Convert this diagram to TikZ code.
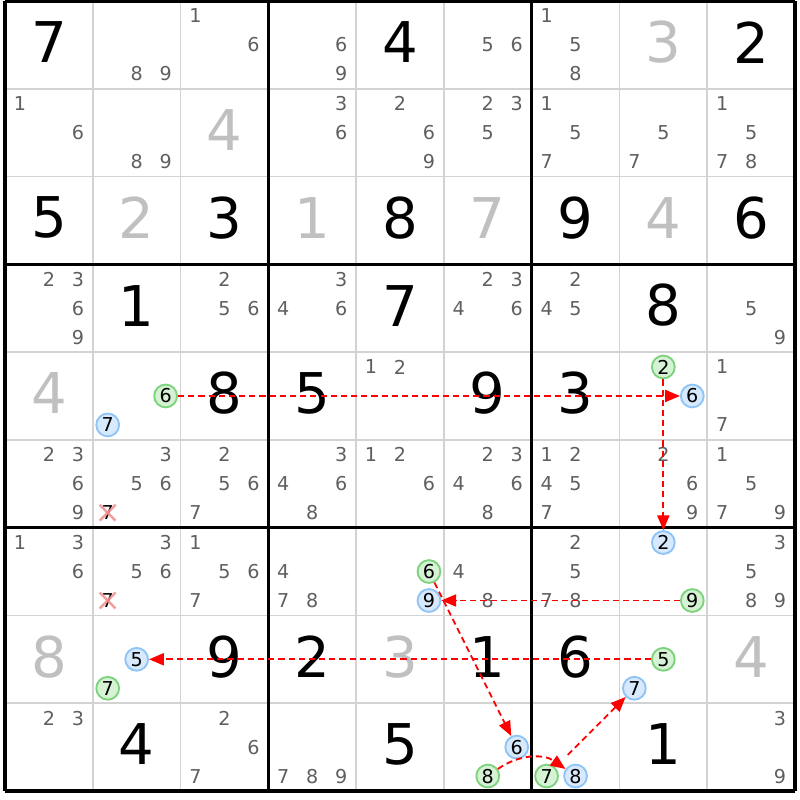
\documentclass[tikz,border=0pt]{standalone}
\usepackage{fontspec}
\setmainfont{DejaVu Sans}
\usepackage{xcolor}
\usetikzlibrary{arrows.meta}
\definecolor{candgray}{HTML}{5F5F5F}
\definecolor{solvedgray}{HTML}{C0C0C0}
\definecolor{gridgray}{HTML}{D3D3D3}
\definecolor{ongreen}{HTML}{7DD37D}
\definecolor{onfill}{HTML}{D5F2D5}
\definecolor{offblue}{HTML}{8EC4F6}
\definecolor{offfill}{HTML}{D7E9FC}
\definecolor{crossred}{HTML}{F28C8C}
\tikzset{%
	given digit/.style={
		font=\fontsize{18.2}{20}\selectfont,
		text=black,
		inner sep=0pt
	},
	solved digit/.style={
		given digit,
		text=solvedgray
	},
	every cand/.style={
		circle,
		inner sep=0pt,
		minimum size=0.26cm,
		font=\fontsize{6.2}{7}\selectfont,
		text=candgray
	},
	cand plain/.style={},
	cand on/.style={draw=ongreen, fill=onfill, line width=0.6pt, text=black},
	cand off/.style={draw=offblue, fill=offfill, line width=0.6pt, text=black},
	cand crossed/.style={text=black},
	cell line/.style={gridgray, line width=0.5pt},
	box line/.style={black, line width=1.1pt},
	cross mark/.style={crossred, line width=0.8pt, opacity=0.85},
	chain link/.style={
		red,
		line width=0.6pt,
		dash pattern=on 2pt off 1.3pt,
		-{Triangle[length=4.8pt, width=3.9pt]}
	},
}

\begin{document}
\begin{tikzpicture}[x=1cm, y=1cm]

			\useasboundingbox (-0.057,0.011) rectangle (9.057,-9.103);
			\fill[white] (-0.057,0.011) rectangle (9.057,-9.103);

			\foreach \i in {1,2,4,5,7,8} {
			\draw [cell line] (\i,0) -- (\i,-9);
			\draw [cell line] (0,-\i) -- (9,-\i);
			}
			\foreach \i in {0,3,6,9} {
			\draw [box line] (\i,0) -- (\i,-9);
			\draw [box line] (0,-\i) -- (9,-\i);
			}

			% given and solved digits
			\foreach \r/\c/\v in {1/1/7,1/5/4,1/9/2,3/1/5,3/3/3,3/5/8,3/7/9,3/9/6,4/2/1,4/5/7,4/8/8,
				5/3/8,5/4/5,5/6/9,5/7/3,8/3/9,8/4/2,8/6/1,8/7/6,9/2/4,9/5/5,9/8/1}
			\node [given digit] (cell-\r-\c) at (\c-0.5,-\r+0.53) {\v};

			\foreach \r/\c/\v in {1/8/3,2/3/4,3/2/2,3/4/1,3/6/7,3/8/4,5/1/4,8/1/8,8/5/3,8/9/4}
			\node [solved digit] (cell-\r-\c) at (\c-0.5,-\r+0.53) {\v};

			% candidates
			\foreach \r/\c/\ds in {1/2/{8,9},1/3/{1,6},1/4/{6,9},1/6/{5,6},1/7/{1,5,8},
				2/1/{1,6},2/2/{8,9},2/4/{3,6},2/5/{2,6,9},2/6/{2,3,5},2/7/{1,5,7},2/8/{5,7},2/9/{1,5,7,8},
				4/1/{2,3,6,9},4/3/{2,5,6},4/4/{3,4,6},4/6/{2,3,4,6},4/7/{2,4,5},4/9/{5,9},
				5/5/{1,2},5/9/{1,7},
				6/1/{2,3,6,9},6/2/{3,5,6},6/3/{2,5,6,7},6/4/{3,4,6,8},6/5/{1,2,6},6/6/{2,3,4,6,8},
				6/7/{1,2,4,5,7},6/8/{2,6,9},6/9/{1,5,7,9},
				7/1/{1,3,6},7/2/{3,5,6},7/3/{1,5,6,7},7/4/{4,7,8},7/6/{4,8},7/7/{2,5,7,8},7/9/{3,5,8,9},
				9/1/{2,3},9/3/{2,6,7},9/4/{7,8,9},9/9/{3,9}}
			\foreach \d in \ds
			\node [every cand, cand plain] (cand-\r-\c-\d)
				at ({\c-0.83+0.33*mod(\d-1,3)},{-\r+0.83-0.33*int((\d-1)/3)}) {\d};

			\foreach \r/\c/\d/\s in {5/2/6/on,5/2/7/off,5/8/2/on,5/8/6/off,7/5/6/on,7/5/9/off,
				7/8/2/off,7/8/9/on,8/2/5/off,8/2/7/on,8/8/5/on,8/8/7/off,9/6/6/off,9/6/8/on,
				9/7/7/on,9/7/8/off,6/2/7/crossed,7/2/7/crossed}
			\node [every cand, cand \s] (cand-\r-\c-\d)
				at ({\c-0.83+0.33*mod(\d-1,3)},{-\r+0.83-0.33*int((\d-1)/3)}) {\d};

			\foreach \r in {6,7} {
			\draw [cross mark] (cand-\r-2-7.center) +(-0.09,-0.09) -- +(0.09,0.09);
			\draw [cross mark] (cand-\r-2-7.center) +(-0.09,0.09) -- +(0.09,-0.09);
			}

			% chain
			\draw [chain link] (cand-5-2-6) -- (cand-5-8-6);
			\draw [chain link] (cand-5-8-2) -- (cand-7-8-2);
			\draw [chain link] (cand-7-8-9) -- (cand-7-5-9);
			\draw [chain link] (cand-7-5-6) -- (cand-9-6-6);
			\draw [chain link] (cand-9-6-8) to [bend left=35] (cand-9-7-8);
			\draw [chain link, shorten <=0.2cm] (cand-9-7-7) -- (cand-8-8-7);
			\draw [chain link] (cand-8-8-5) -- (cand-8-2-5);

\end{tikzpicture}
\end{document}
